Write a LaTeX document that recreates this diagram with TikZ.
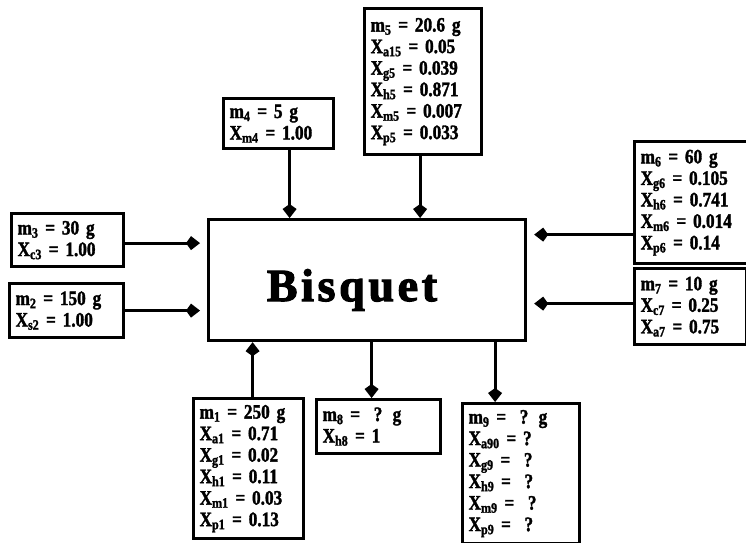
\documentclass[tikz,border=0pt]{standalone}
\usepackage{fontspec}
\setmainfont{Liberation Serif}
\newfontfamily\boxfont[FakeStretch=0.84,FakeBold=1.6,WordSpace=0.8]{Liberation Serif}
\newfontfamily\titlefont[LetterSpace=8,FakeBold=2.5]{Liberation Serif}
\usetikzlibrary{arrows.meta,calc}
\newcommand\Xs[1]{X\textsubscript{#1}}
\newcommand\ms[1]{m\textsubscript{#1}}
\begin{document}
\begin{tikzpicture}[x=1pt,y=-1pt,
  box/.style={draw, line width=3.2pt, anchor=north west, inner xsep=6pt, inner ysep=0pt, align=left,
    font=\boxfont\bfseries\fontsize{20.5}{21.5}\selectfont},
  flow/.style={line width=3pt, -{Kite[length=14pt,width=14pt,inset=5pt]}},
  side/.style={flow, shorten >=7pt}]
\useasboundingbox (0,0) rectangle (746,542);
\begin{scope}
\clip (0,0) rectangle (746,542);
\node[box, text width=317pt, inner xsep=0pt, minimum height=121pt] (main) at (207,218) {};
\node[font=\titlefont\bfseries\fontsize{46}{46}\selectfont] (title) at (352,290) {Bisquet};
\node[box, text width=105pt, minimum height=146pt] (m5) at (363,7)
  {\ms{5} = 20.6 g\\ \Xs{a15} = 0.05\\ \Xs{g5} = 0.039\\ \Xs{h5} = 0.871\\ \Xs{m5} = 0.007\\ \Xs{p5} = 0.033};
\node[box, text width=98pt, minimum height=50pt] (m4) at (222,97)
  {\ms{4} = 5 g\\ \Xs{m4} = 1.00};
\node[box, text width=100pt, minimum height=53pt] (m3) at (10,212)
  {\ms{3} = 30 g\\ \Xs{c3} = 1.00};
\node[box, text width=102pt, minimum height=54pt] (m2) at (8,282)
  {\ms{2} = 150 g\\ \Xs{s2} = 1.00};
\node[box, text width=108pt, minimum height=122pt] (m6) at (633,140)
  {\ms{6} = 60 g\\ \Xs{g6} = 0.105\\ \Xs{h6} = 0.741\\ \Xs{m6} = 0.014\\ \Xs{p6} = 0.14};
\node[box, text width=100pt, minimum height=76pt] (m7) at (633,267)
  {\ms{7} = 10 g\\ \Xs{c7} = 0.25\\ \Xs{a7} = 0.75};
\node[box, text width=98pt, minimum height=140pt] (m1) at (192,397)
  {\ms{1} = 250 g\\ \Xs{a1} = 0.71\\ \Xs{g1} = 0.02\\ \Xs{h1} = 0.11\\ \Xs{m1} = 0.03\\ \Xs{p1} = 0.13};
\node[box, text width=112pt, minimum height=54pt] (m8) at (315,398)
  {\ms{8} = \ ? g\\ \Xs{h8} = 1};
\node[box, text width=105pt, minimum height=140pt] (m9) at (461,402)
  {\ms{9} = \ ? g\\ \Xs{a90} = ?\\ \Xs{g9} = \ ?\\ \Xs{h9} = \ ?\\ \Xs{m9} = \ ?\\ \Xs{p9} = \ ?};
\end{scope}
% inputs from above
\draw[flow] ($(m5.south)+(-3,0)$) -- ($(m5.south |- main.north)+(-3,0)$);
\draw[flow] ($(m4.south)+(11,0)$) -- ($(m4.south |- main.north)+(11,0)$);
% inputs from the left
\draw[side] ($(m3.east)+(0,3)$) -- ($(m3.east -| main.west)+(0,3)$);
\draw[side] (m2.east) -- (m2.east -| main.west);
% inputs from the right
\draw[side] ($(m6.west)+(0,32)$) -- ($(m6.west -| main.east)+(0,32)$);
\draw[side] ($(m7.west)+(0,-3)$) -- ($(m7.west -| main.east)+(0,-3)$);
% bottom
\draw[flow] ($(m1.north)+(4,0)$) -- ($(m1.north |- main.south)+(4,0)$);
\draw[flow] ($(m8.north |- main.south)+(-7,0)$) -- ($(m8.north)+(-7,0)$);
\draw[flow] ($(m9.north |- main.south)+(-26,0)$) -- ($(m9.north)+(-26,0)$);
\end{tikzpicture}
\end{document}
